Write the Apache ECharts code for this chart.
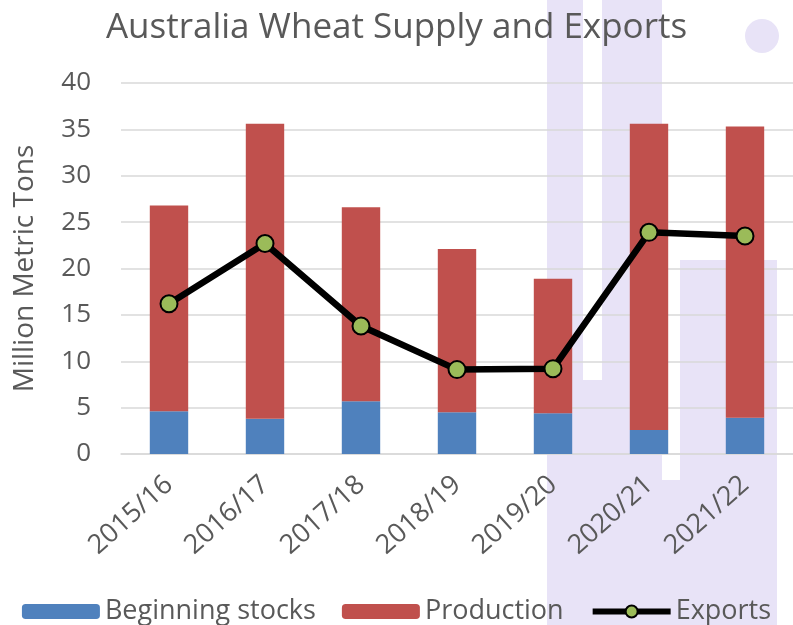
<!DOCTYPE html>
<html>
<head>
<meta charset="utf-8">
<script src="https://cdn.jsdelivr.net/npm/echarts@6/dist/echarts.min.js"></script>
<style>
  html, body { margin: 0; padding: 0; background: #fff; }
  #chart { width: 793px; height: 625px; }
</style>
</head>
<body>
<div id="chart"></div>
<script>
const years = ['2015/16', '2016/17', '2017/18', '2018/19', '2019/20', '2020/21', '2021/22'];
const beginningStocks = [4.6, 3.8, 5.7, 4.5, 4.4, 2.6, 3.9];
const production = [22.2, 31.8, 20.9, 17.6, 14.5, 33.0, 31.4];
const exportsData = [16.2, 22.7, 13.8, 9.1, 9.2, 23.9, 23.5];

const font = '"Open Sans", Lato, sans-serif';
const grey = '#595959';
const lavender = '#E8E3F7';

// faint watermark behind the plot
const bg = (shape) => ({ type: 'rect', shape, z: -10, style: { fill: lavender } });

const chart = echarts.init(document.getElementById('chart'));
chart.setOption({
  animation: false,
  textStyle: { fontFamily: font },
  graphic: [
    bg({ x: 547, y: 0, width: 36, height: 625 }),
    bg({ x: 602, y: 0, width: 60, height: 625 }),
    bg({ x: 583, y: 380, width: 19, height: 245 }),
    bg({ x: 680, y: 260, width: 97, height: 365 }),
    bg({ x: 662, y: 480, width: 18, height: 145 }),
    { type: 'circle', shape: { cx: 762, cy: 36, r: 17 }, z: -10, style: { fill: lavender } }
  ],
  title: {
    text: 'Australia Wheat Supply and Exports',
    left: 'center',
    top: 6,
    textStyle: { fontFamily: font, fontSize: 35, fontWeight: 'normal', color: grey }
  },
  legend: {
    top: 593,
    left: 'center',
    itemWidth: 78,
    itemHeight: 15,
    itemGap: 26,
    textStyle: { fontFamily: font, fontSize: 27, color: grey },
    data: [
      'Beginning stocks',
      'Production',
      { name: 'Exports', lineStyle: { width: 6 } }
    ]
  },
  grid: { left: 121, right: 0, top: 83, bottom: 171 },
  xAxis: {
    type: 'category',
    data: years,
    axisTick: { show: false },
    axisLine: { lineStyle: { color: '#d9d9d9', width: 1.5 } },
    axisLabel: { rotate: 42, fontSize: 27, color: grey, margin: 27, fontFamily: font }
  },
  yAxis: {
    type: 'value',
    min: 0,
    max: 40,
    interval: 5,
    name: 'Million Metric Tons',
    nameLocation: 'middle',
    nameGap: 82,
    nameTextStyle: { fontSize: 28, color: grey, fontFamily: font },
    axisLabel: { fontSize: 26, color: grey, margin: 30, fontFamily: font },
    splitLine: { lineStyle: { color: '#d9d9d9', width: 1.5 } }
  },
  series: [
    {
      name: 'Beginning stocks',
      type: 'bar',
      stack: 'supply',
      barWidth: '40%',
      itemStyle: { color: '#4F81BD' },
      data: beginningStocks
    },
    {
      name: 'Production',
      type: 'bar',
      stack: 'supply',
      barWidth: '40%',
      itemStyle: { color: '#C0504D' },
      data: production
    },
    {
      name: 'Exports',
      type: 'line',
      data: exportsData,
      symbol: 'circle',
      symbolSize: 17,
      lineStyle: { color: '#000', width: 6.5 },
      itemStyle: { color: '#9BBB59', borderColor: '#000', borderWidth: 2 }
    }
  ]
});
</script>
</body>
</html>
